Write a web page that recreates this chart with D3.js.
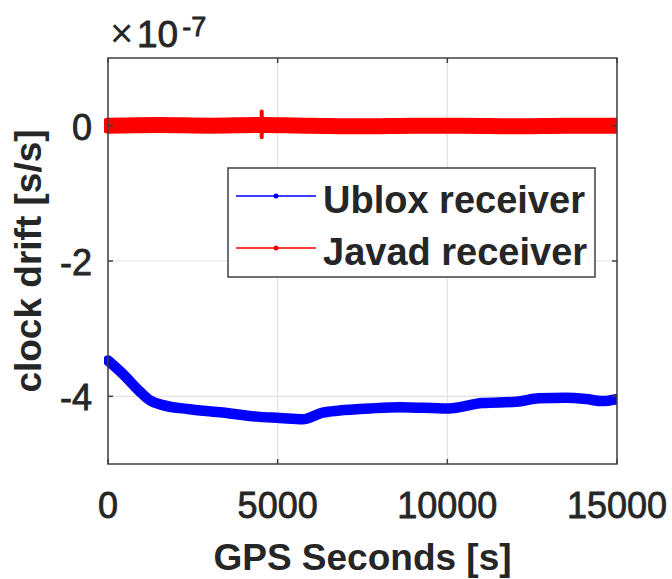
<!DOCTYPE html>
<html>
<head>
<meta charset="utf-8">
<script src="https://cdn.jsdelivr.net/npm/d3@7/dist/d3.min.js"></script>
<style>
  html, body { margin: 0; padding: 0; background: #fff; }
  svg { display: block; }
  text { font-family: "Liberation Sans", Arial, Helvetica, sans-serif; fill: #262626; }
  .tick-label { stroke: #262626; stroke-width: 0.8px; }
</style>
</head>
<body>
<svg id="chart" width="672" height="579"></svg>
<script>
// GPS time (s) and clock drift (×1e-7 s/s)
const ubloxTime  = [0, 440, 940, 1240, 1620, 2410, 3380, 4380, 5060, 5740, 6330, 6820, 7700, 8590, 10030, 11030, 12030, 12700, 13500, 14090, 14560, 15000];
const ubloxDrift = [-3.47, -3.67, -3.93, -4.06, -4.13, -4.19, -4.24, -4.30, -4.32, -4.34, -4.24, -4.21, -4.18, -4.16, -4.18, -4.10, -4.08, -4.03, -4.02, -4.04, -4.07, -4.04];

const javadTime  = [0, 1500, 3000, 4500, 6000, 7500, 9000, 10500, 12000, 13500, 15000];
const javadDrift = [0.0, 0.01, 0.0, 0.01, 0.0, -0.01, 0.0, 0.0, -0.01, 0.0, 0.0];
// short outlier burst in the Javad record
const javadSpikeTime = [4530];
const javadSpikeHigh = [0.21];
const javadSpikeLow  = [-0.17];

const xTicks = [0, 5000, 10000, 15000];
const yTicks = [-4, -2, 0];
const legendLabels = ["Ublox receiver", "Javad receiver"];
const seriesColors = ["#0000ff", "#ff0000"];

const svg = d3.select("#chart");
const pLeft = 108, pRight = 617, pTop = 58, pBottom = 464;

const x = d3.scaleLinear().domain([0, 15000]).range([pLeft, pRight]);
const y = d3.scaleLinear().domain([-5, 1]).range([pBottom, pTop]);

const axisColor = "#404040";

// grid
const grid = svg.append("g");
grid.selectAll("line.gx").data(xTicks).join("line")
  .attr("x1", d => x(d)).attr("x2", d => x(d)).attr("y1", pTop).attr("y2", pBottom)
  .attr("stroke", "#e3e3e3").attr("stroke-width", 1.2);
grid.selectAll("line.gy").data(yTicks).join("line")
  .attr("x1", pLeft).attr("x2", pRight).attr("y1", d => y(d)).attr("y2", d => y(d))
  .attr("stroke", "#e3e3e3").attr("stroke-width", 1.2);

// data
svg.append("clipPath").attr("id", "plotClip")
  .append("rect").attr("x", pLeft - 4).attr("y", pTop).attr("width", pRight - pLeft + 4).attr("height", pBottom - pTop);

const plot = svg.append("g").attr("clip-path", "url(#plotClip)");
const line = d3.line().x(d => x(d[0])).y(d => y(d[1])).curve(d3.curveMonotoneX);

plot.append("path")
  .datum(javadTime.map((t, i) => [t, javadDrift[i]]))
  .attr("d", line).attr("fill", "none")
  .attr("stroke", seriesColors[1]).attr("stroke-width", 16).attr("stroke-linecap", "round");

plot.selectAll("line.spike").data(javadSpikeTime).join("line")
  .attr("x1", d => x(d)).attr("x2", d => x(d))
  .attr("y1", (d, i) => y(javadSpikeHigh[i])).attr("y2", (d, i) => y(javadSpikeLow[i]))
  .attr("stroke", seriesColors[1]).attr("stroke-width", 4).attr("stroke-linecap", "round");

plot.append("path")
  .datum(ubloxTime.map((t, i) => [t, ubloxDrift[i]]))
  .attr("d", line).attr("fill", "none")
  .attr("stroke", seriesColors[0]).attr("stroke-width", 10.5)
  .attr("stroke-linecap", "round").attr("stroke-linejoin", "round");

// axes box
svg.append("rect").attr("x", pLeft).attr("y", pTop).attr("width", pRight - pLeft).attr("height", pBottom - pTop)
  .attr("fill", "none").attr("stroke", axisColor).attr("stroke-width", 1.5);

// inward ticks on all four sides
const tl = 5;
const ticks = svg.append("g").attr("stroke", axisColor).attr("stroke-width", 1.5);
xTicks.forEach(t => {
  ticks.append("line").attr("x1", x(t)).attr("x2", x(t)).attr("y1", pBottom).attr("y2", pBottom - tl);
  ticks.append("line").attr("x1", x(t)).attr("x2", x(t)).attr("y1", pTop).attr("y2", pTop + tl);
});
yTicks.forEach(t => {
  ticks.append("line").attr("x1", pLeft).attr("x2", pLeft + tl).attr("y1", y(t)).attr("y2", y(t));
  ticks.append("line").attr("x1", pRight).attr("x2", pRight - tl).attr("y1", y(t)).attr("y2", y(t));
});

// tick labels
svg.append("g").selectAll("text").data(xTicks).join("text")
  .attr("class", "tick-label")
  .attr("x", d => x(d)).attr("y", 518)
  .attr("text-anchor", "middle").attr("font-size", 36)
  .text(d => d);

svg.append("g").selectAll("text").data(yTicks).join("text")
  .attr("class", "tick-label")
  .attr("x", 92).attr("y", d => y(d) + 14)
  .attr("text-anchor", "end").attr("font-size", 36)
  .text(d => d);

// axis labels
svg.append("text").attr("x", (pLeft + pRight) / 2).attr("y", 570)
  .attr("text-anchor", "middle").attr("font-size", 37).attr("font-weight", "bold")
  .text("GPS Seconds [s]");

svg.append("text")
  .attr("transform", `translate(41, ${(pTop + pBottom) / 2}) rotate(-90)`)
  .attr("text-anchor", "middle").attr("font-size", 37).attr("font-weight", "bold")
  .text("clock drift [s/s]");

// exponent multiplier
svg.append("text").attr("x", 110).attr("y", 47).attr("font-size", 40)
  .attr("font-family", "DejaVu Sans").attr("font-weight", 300).text("×");
const expo = svg.append("text").attr("class", "tick-label").attr("x", 137).attr("y", 47).attr("font-size", 37);
expo.append("tspan").text("10");
expo.append("tspan").attr("font-size", 27).attr("dy", -11).attr("dx", 4).text("-7");

// legend
const lg = svg.append("g");
lg.append("rect").attr("x", 228).attr("y", 168).attr("width", 367).attr("height", 109)
  .attr("fill", "#fff").attr("stroke", axisColor).attr("stroke-width", 1.5);
legendLabels.forEach((lab, i) => {
  const ly = 196 + i * 52;
  lg.append("line").attr("x1", 236).attr("x2", 316).attr("y1", ly).attr("y2", ly)
    .attr("stroke", seriesColors[i]).attr("stroke-width", 1.5);
  lg.append("circle").attr("cx", 276).attr("cy", ly).attr("r", 2.5).attr("fill", seriesColors[i]);
  lg.append("text").attr("x", 323).attr("y", ly + 17)
    .attr("font-size", 38).attr("font-weight", "bold").attr("fill", "#000")
    .text(lab);
});
</script>
</body>
</html>
